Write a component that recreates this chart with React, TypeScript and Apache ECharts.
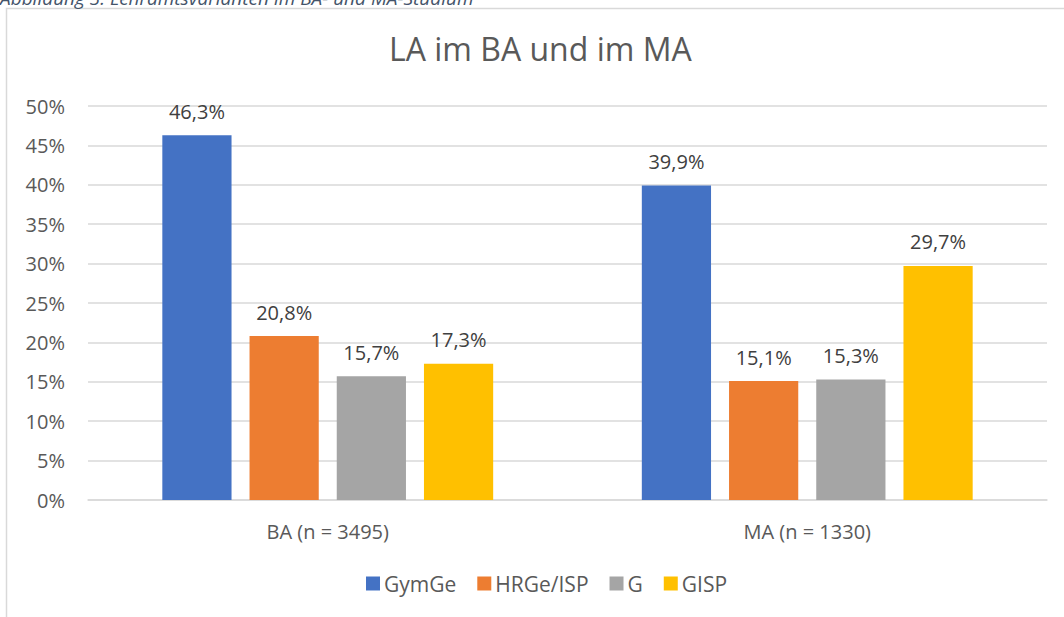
import React, { useEffect, useRef } from "react";
import * as echarts from "echarts";

const categories = ["BA (n = 3495)", "MA (n = 1330)"];
const seriesNames = ["GymGe", "HRGe/ISP", "G", "GISP"];
const colors = ["#4472C4", "#ED7D31", "#A5A5A5", "#FFC000"];
const gymGe = [46.3, 39.9];
const hrgeIsp = [20.8, 15.1];
const g = [15.7, 15.3];
const gisp = [17.3, 29.7];
const values = [gymGe, hrgeIsp, g, gisp];

const FONT = "'Open Sans', 'Noto Sans', sans-serif";

export default function App() {
  const ref = useRef<HTMLDivElement>(null);
  useEffect(() => {
    document.body.style.margin = "0";
    const chart = echarts.init(ref.current!, null, { renderer: "svg" });
    chart.setOption({
      animation: false,
      backgroundColor: "#ffffff",
      title: {
        text: "LA im BA und im MA",
        left: 384,
        top: 27,
        textStyle: { fontFamily: FONT, fontSize: 32, fontWeight: "normal", color: "#595959" },
      },
      graphic: [
        {
          type: "rect",
          shape: { x: 6.5, y: 8.5, width: 1200, height: 800 },
          style: { fill: "none", stroke: "#d9d9d9", lineWidth: 1.5 },
          silent: true,
        },
        {
          type: "text",
          x: 0,
          y: 7,
          style: {
            text: "Abbildung 3: Lehramtsvarianten im BA- und MA-Studium",
            fill: "#44546A",
            font: `italic 19px ${FONT}`,
            verticalAlign: "bottom",
          },
          silent: true,
        },
      ],
      legend: {
        data: seriesNames,
        top: 568,
        left: 361,
        itemWidth: 14,
        itemHeight: 14,
        itemGap: 21,
        icon: "rect",
        textStyle: { fontFamily: FONT, fontSize: 21, color: "#595959", padding: [0, 0, 0, -1] },
      },
      grid: { left: 88, right: 17, top: 106, bottom: 117, containLabel: false },
      xAxis: {
        type: "category",
        data: categories,
        axisTick: { show: false },
        axisLine: { lineStyle: { color: "#d9d9d9", width: 1.5 } },
        axisLabel: { fontFamily: FONT, fontSize: 20, color: "#595959", margin: 21 },
      },
      yAxis: {
        type: "value",
        min: 0,
        max: 50,
        interval: 5,
        axisLine: { show: false },
        axisTick: { show: false },
        splitLine: { lineStyle: { color: "#d9d9d9", width: 1.5 } },
        axisLabel: { fontFamily: FONT, fontSize: 20, color: "#595959", margin: 23, formatter: "{value}%" },
      },
      series: seriesNames.map((name, i) => ({
        name,
        type: "bar",
        data: values[i],
        barGap: "26%",
        barCategoryGap: "31%",
        itemStyle: { color: colors[i] },
        label: {
          show: true,
          position: "top",
          distance: 14,
          fontFamily: FONT,
          fontSize: 20,
          color: "#404040",
          formatter: (p: any) => p.value.toFixed(1).replace(".", ",") + "%",
        },
      })),
    });
    return () => chart.dispose();
  }, []);
  return <div ref={ref} style={{ width: 1064, height: 617 }} />;
}
